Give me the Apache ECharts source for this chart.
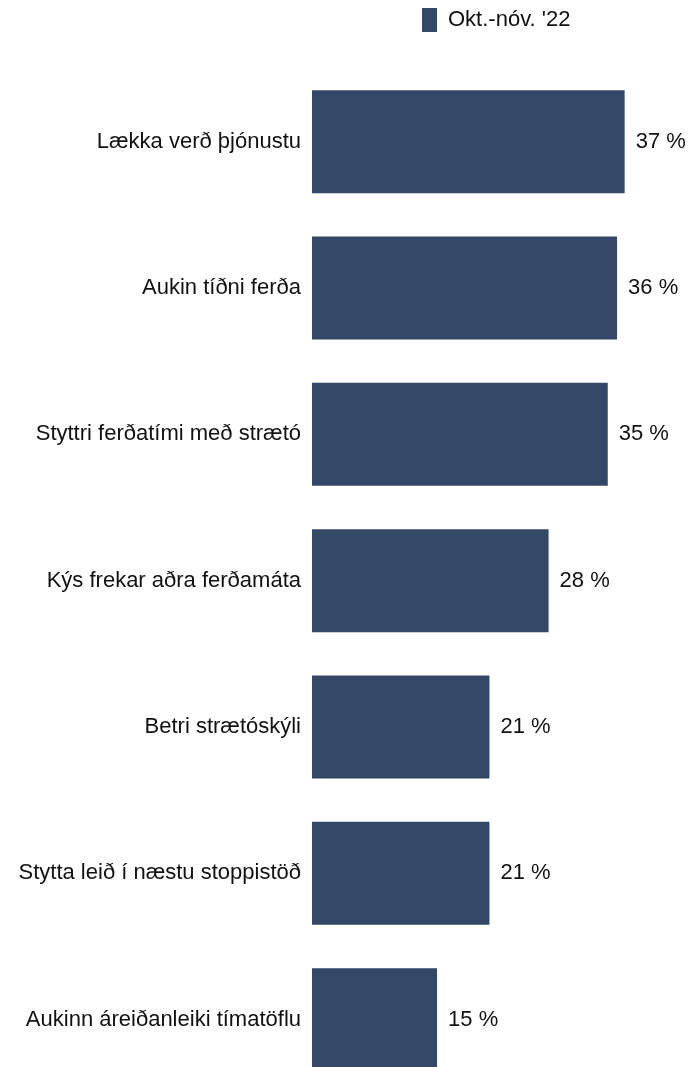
<!DOCTYPE html>
<html>
<head>
<meta charset="utf-8">
<script src="https://cdn.jsdelivr.net/npm/echarts@6/dist/echarts.min.js"></script>
<style>html,body{margin:0;padding:0;background:#fff}#c{width:689px;height:1067px}</style>
</head>
<body>
<div id="c"></div>
<script>
const categories = [
  "Lækka verð þjónustu",
  "Aukin tíðni ferða",
  "Styttri ferðatími með strætó",
  "Kýs frekar aðra ferðamáta",
  "Betri strætóskýli",
  "Stytta leið í næstu stoppistöð",
  "Aukinn áreiðanleiki tímatöflu"
];
const seriesName = "Okt.-nóv. '22";
const values = [37.0, 36.1, 35.0, 28.0, 21.0, 21.0, 14.8];

const chart = echarts.init(document.getElementById('c'), null, {renderer: 'canvas'});
const font = "'Liberation Sans', Arial, sans-serif";
chart.setOption({
  animation: false,
  textStyle: {fontFamily: font},
  legend: {
    data: [seriesName],
    left: 422,
    top: 8,
    padding: 0,
    itemWidth: 15,
    itemHeight: 24,
    icon: 'rect',
    textStyle: {fontSize: 22, color: '#111', fontFamily: font, padding: [0, 0, 0, 6]}
  },
  grid: {left: 312, width: 338, top: 68.5, height: 1024.3, containLabel: false, outerBoundsMode: 'none'},
  xAxis: {
    type: 'value', min: 0, max: 40, show: false
  },
  yAxis: {
    type: 'category', data: categories, inverse: true,
    axisLine: {show: false}, axisTick: {show: false}, splitLine: {show: false},
    axisLabel: {fontSize: 22, color: '#111', fontFamily: font, margin: 11}
  },
  series: [{
    name: seriesName,
    type: 'bar',
    data: values,
    barWidth: 103,
    itemStyle: {color: '#334766'},
    label: {
      show: true, position: 'right', distance: 11,
      fontSize: 22, color: '#111', fontFamily: font,
      formatter: p => Math.round(p.value) + ' %'
    }
  }]
});
</script>
</body>
</html>
